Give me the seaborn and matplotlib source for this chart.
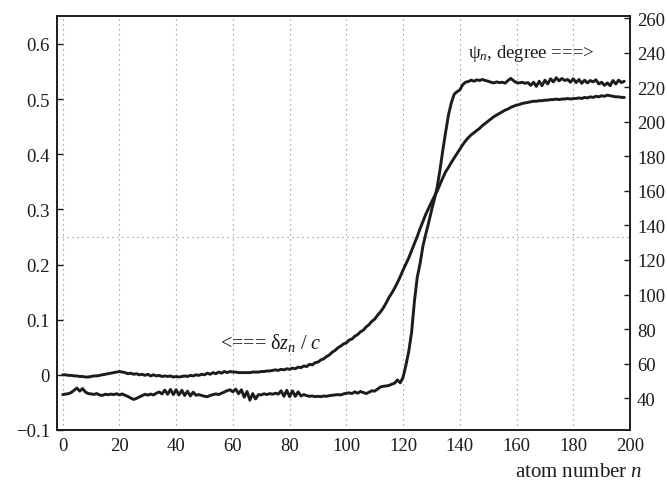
import numpy as np
import matplotlib
matplotlib.use("Agg")
import matplotlib.pyplot as plt
import seaborn as sns

# psi_n in degrees (right axis), atoms 0..198
psi_deg = [
    42.0, 42.3, 42.5, 43.2, 44.5, 45.8, 44.0, 45.5, 43.5, 42.6,
    42.4, 42.1, 42.6, 41.8, 41.5, 42.2, 41.9, 42.3, 42.0, 42.5,
    41.8, 42.4, 41.6, 40.9, 40.0, 39.2, 39.8, 40.6, 41.4, 42.2,
    41.7, 42.3, 41.8, 42.8, 43.5, 42.4, 44.6, 42.2, 45.0, 42.0,
    44.8, 41.8, 44.5, 41.5, 44.0, 41.2, 43.4, 41.6, 42.0, 41.5,
    41.0, 40.8, 41.5, 42.0, 42.4, 42.0, 42.8, 43.5, 44.3, 44.8,
    43.6, 45.2, 42.5, 44.8, 40.5, 43.8, 38.8, 42.6, 39.5, 42.0,
    41.8, 42.5, 42.0, 42.6, 42.2, 42.8, 42.3, 44.2, 41.0, 44.5,
    40.8, 44.2, 41.0, 43.6, 41.2, 42.0, 41.4, 41.0, 41.2, 40.8,
    41.0, 40.8, 41.2, 41.0, 41.4, 41.6, 41.8, 42.0, 41.8, 42.4,
    42.8, 43.0, 42.6, 43.6, 42.8, 43.8, 43.2, 42.6, 43.4, 44.2,
    44.0, 45.2, 46.4, 46.8, 47.0, 47.3, 48.0, 48.6, 50.5, 48.8,
    52.0, 59.0, 67.0, 78.0, 96.0, 110.0, 118.0, 128.0, 135.0, 141.5,
    148.5, 155.0, 162.0, 172.0, 183.5, 194.0, 204.0, 211.0, 216.0, 217.5,
    218.5, 221.5, 223.0, 223.4, 224.2, 223.6, 224.4, 224.0, 224.6, 224.0,
    223.6, 223.0, 222.6, 223.2, 222.8, 223.0, 222.5, 224.0, 225.2, 223.8,
    222.8, 222.6, 223.0, 222.4, 222.8, 221.2, 223.0, 220.6, 223.6, 221.0,
    224.2, 222.0, 225.0, 223.2, 225.6, 223.8, 225.2, 224.0, 224.6, 223.0,
    225.0, 222.8, 224.6, 222.4, 224.2, 222.6, 224.0, 223.2, 224.4, 222.0,
    223.0, 221.2, 222.6, 221.0, 224.0, 222.0, 224.2, 222.8, 223.6,
]

# delta z_n / c (left axis), atoms 0..198
dz_c = [
    0.000, 0.000, -0.001, -0.001, -0.002, -0.002, -0.003, -0.003, -0.004, -0.004,
    -0.003, -0.002, -0.002, -0.001, 0.000, 0.001, 0.002, 0.003, 0.004, 0.005,
    0.006, 0.005, 0.004, 0.002, 0.003, 0.001, 0.002, 0.000, 0.001, -0.001,
    0.001, -0.002, 0.000, -0.002, -0.001, -0.003, -0.002, -0.003, -0.002, -0.004,
    -0.003, -0.004, -0.003, -0.002, -0.003, -0.001, -0.002, 0.000, -0.001, 0.001,
    0.000, 0.003, 0.001, 0.004, 0.002, 0.005, 0.003, 0.006, 0.004, 0.006,
    0.005, 0.005, 0.004, 0.004, 0.004, 0.004, 0.004, 0.005, 0.005, 0.005,
    0.006, 0.006, 0.007, 0.007, 0.008, 0.009, 0.008, 0.010, 0.009, 0.011,
    0.010, 0.012, 0.011, 0.014, 0.013, 0.016, 0.015, 0.019, 0.018, 0.022,
    0.023, 0.027, 0.029, 0.033, 0.036, 0.041, 0.044, 0.049, 0.052, 0.056,
    0.058, 0.063, 0.065, 0.070, 0.073, 0.078, 0.081, 0.087, 0.091, 0.097,
    0.101, 0.108, 0.114, 0.121, 0.130, 0.140, 0.148, 0.157, 0.167, 0.178,
    0.190, 0.201, 0.212, 0.225, 0.238, 0.251, 0.265, 0.278, 0.291, 0.302,
    0.313, 0.323, 0.333, 0.345, 0.357, 0.368, 0.376, 0.385, 0.393, 0.401,
    0.409, 0.417, 0.424, 0.430, 0.435, 0.439, 0.443, 0.447, 0.452, 0.456,
    0.460, 0.464, 0.468, 0.471, 0.474, 0.477, 0.480, 0.482, 0.485, 0.487,
    0.489, 0.490, 0.492, 0.493, 0.494, 0.495, 0.496, 0.496, 0.497, 0.497,
    0.498, 0.498, 0.499, 0.499, 0.500, 0.499, 0.500, 0.500, 0.501, 0.500,
    0.501, 0.501, 0.502, 0.501, 0.503, 0.502, 0.504, 0.503, 0.505, 0.504,
    0.506, 0.505, 0.507, 0.506, 0.505, 0.504, 0.504, 0.503, 0.503,
]

atom_n = np.arange(len(dz_c))

x_ticks = list(range(0, 201, 20))
left_ticks = [-0.1, 0, 0.1, 0.2, 0.3, 0.4, 0.5, 0.6]
left_labels = ["\u22120.1", "0", "0.1", "0.2", "0.3", "0.4", "0.5", "0.6"]
right_ticks = list(range(40, 261, 20))

sns.set_style("white")
plt.rcParams["font.family"] = ["Liberation Serif", "DejaVu Serif"]
plt.rcParams["mathtext.fontset"] = "custom"
plt.rcParams["mathtext.rm"] = "Liberation Serif"
plt.rcParams["mathtext.it"] = "Liberation Serif:italic"

ink = "#1c1c1c"
fig = plt.figure(figsize=(6.67, 4.81), dpi=100)
ax = fig.add_axes([0.0855, 0.104, 0.859, 0.860])
ax2 = ax.twinx()

sns.lineplot(x=atom_n, y=dz_c, ax=ax, color=ink, lw=2.1)
sns.lineplot(x=atom_n, y=psi_deg, ax=ax2, color=ink, lw=2.1)

ax.set_xlim(-2, 200)
ax.set_ylim(-0.1, 0.65)
ax2.set_ylim(21.5, 261.2)

ax.set_xticks(x_ticks)
ax.set_yticks(left_ticks)
ax.set_yticklabels(left_labels)
ax2.set_yticks(right_ticks)

for x in x_ticks[:-1]:
    ax.axvline(x, color="0.5", ls=(0, (1, 3.5)), lw=0.8, zorder=0)
ax.axhline(0.25, color="0.5", ls=(0, (1, 3.5)), lw=0.8, zorder=0)

ax.tick_params(axis="both", direction="in", length=4, width=1, labelsize=13.5,
               colors=ink, pad=5)
ax.tick_params(axis="x", top=False)
ax2.tick_params(axis="y", direction="in", length=4, width=1, labelsize=13.5,
                colors=ink, pad=5)
for a in (ax, ax2):
    for s in a.spines.values():
        s.set_color(ink)
        s.set_linewidth(1.2)
ax.set_xlabel("")
ax.set_ylabel("")
ax2.set_ylabel("")

ax.text(143, 0.585, "\u03c8$_n$, degree ===>", fontsize=13.5, color=ink,
        ha="left", va="center")
ax.text(55.5, 0.059, "<=== \u03b4$z_n$ / $c$", fontsize=14.5, color=ink,
        ha="left", va="center")
fig.text(643 / 667, 1 - 473 / 481, "atom number $n$", fontsize=15, color=ink,
         ha="right", va="center")

fig.savefig("out.png", dpi=100)
